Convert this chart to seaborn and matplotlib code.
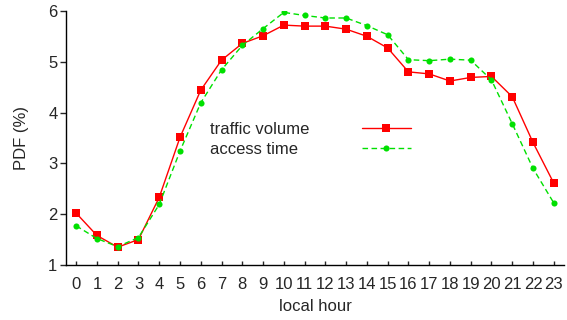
import numpy as np
import pandas as pd
import matplotlib
matplotlib.use("Agg")
import matplotlib.pyplot as plt
from matplotlib.lines import Line2D
import seaborn as sns

# hourly PDF values
hours = list(range(24))
traffic_volume = [2.02, 1.58, 1.35, 1.50, 2.33, 3.51, 4.44, 5.03, 5.36, 5.51, 5.72, 5.70,
                  5.70, 5.64, 5.50, 5.27, 4.80, 4.76, 4.62, 4.69, 4.71, 4.31, 3.41, 2.61]
access_time = [1.77, 1.52, 1.36, 1.54, 2.19, 3.24, 4.19, 4.84, 5.32, 5.65, 5.97, 5.91,
               5.86, 5.86, 5.71, 5.53, 5.04, 5.02, 5.05, 5.03, 4.64, 3.78, 2.90, 2.22]

df = pd.DataFrame({"hour": hours, "traffic": traffic_volume, "access": access_time})

sns.set_style("ticks")
plt.rcParams['font.family'] = ['Liberation Sans', 'DejaVu Sans']
plt.rcParams['font.size'] = 12

red = '#ff0000'
green = '#00e000'
dash = (0, (4, 2.5))

fig = plt.figure(figsize=(5.67, 3.2), dpi=100)
ax = fig.add_axes([0.116, 0.172, 0.879, 0.794])

sns.lineplot(data=df, x="hour", y="traffic", ax=ax, color=red, linewidth=1,
             marker='s', markersize=5.4, markeredgewidth=0, zorder=2)
sns.lineplot(data=df, x="hour", y="access", ax=ax, color=green, linewidth=1,
             linestyle=dash, marker='o', markersize=4.4, markeredgewidth=0, zorder=3)

ax.set_xlim(-0.5, 23.5)
ax.set_ylim(1, 6)
ax.set_xticks(hours)
ax.set_yticks([1, 2, 3, 4, 5, 6])
ax.tick_params(axis='x', direction='in', length=3, width=1, labelsize=12, pad=9)
ax.tick_params(axis='y', direction='out', length=4, width=1, labelsize=12, pad=2)
ax.set_xlabel("local hour", fontsize=12, labelpad=5)
ax.set_ylabel("PDF (%)", fontsize=12, labelpad=14)
sns.despine(ax=ax)
for s in ['left', 'bottom']:
    ax.spines[s].set_linewidth(1)
    ax.spines[s].set_color('black')

# legend: labels in first column, samples in second column
blank = Line2D([], [], color='none')
h_red = Line2D([], [], color=red, linewidth=1, marker='s', markersize=5.4, markeredgewidth=0)
h_green = Line2D([], [], color=green, linewidth=1, linestyle=dash,
                 marker='o', markersize=4.4, markeredgewidth=0)
leg = ax.legend([blank, blank, h_red, h_green],
                ["traffic volume", "access time", "", ""],
                ncol=2, frameon=False, handlelength=2.9, handletextpad=0.0,
                columnspacing=3.15, labelspacing=0.3, fontsize=12,
                loc='upper left', bbox_to_anchor=(0.193, 0.563), borderpad=0, borderaxespad=0)

fig.savefig("out.png", dpi=100)
